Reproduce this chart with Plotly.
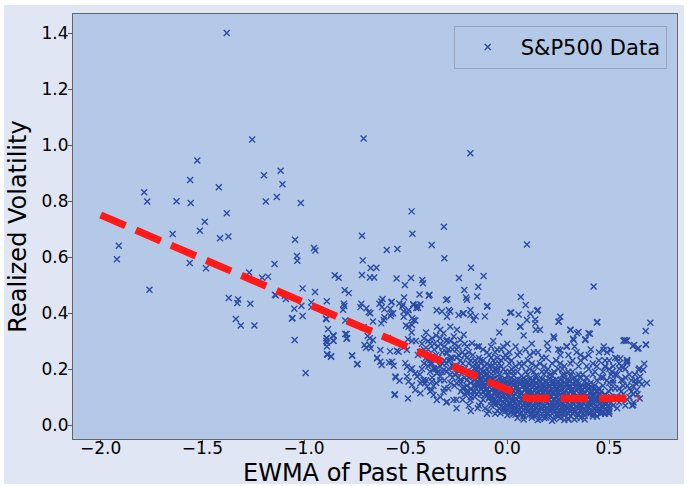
import plotly.graph_objects as go

# ---------------- data ----------------
# sparse / individually readable points
outlier_pts = [
    (-1.380, 1.400), (-1.255, 1.020), (-0.707, 1.023), (-0.182, 0.971), (-1.525, 0.945),
    (-1.115, 0.908), (-1.197, 0.892), (-1.560, 0.875), (-1.106, 0.860), (-1.419, 0.849),
    (-1.786, 0.831), (-1.771, 0.798), (-1.627, 0.799), (-1.557, 0.793), (-1.188, 0.798),
    (-1.134, 0.814), (-1.016, 0.793), (-0.471, 0.763), (-1.380, 0.756), (-1.488, 0.726),
    (-1.512, 0.694), (-1.646, 0.682), (-0.312, 0.708), (-0.467, 0.683), (-0.715, 0.676),
    (-1.372, 0.673), (-1.413, 0.667), (-1.044, 0.662), (0.096, 0.645), (-1.911, 0.640),
    (-0.372, 0.643), (-0.951, 0.632), (-0.944, 0.623), (-0.593, 0.625), (-0.541, 0.629),
    (-1.035, 0.604), (-1.033, 0.587), (-0.310, 0.596), (-1.920, 0.592), (-0.711, 0.588),
    (-1.562, 0.579), (-1.145, 0.575), (-1.482, 0.560), (-0.672, 0.561), (-0.644, 0.562),
    (-0.179, 0.562), (-1.270, 0.545), (-0.715, 0.536), (-0.849, 0.535), (-0.830, 0.526),
    (-0.117, 0.532), (-1.206, 0.526), (-1.177, 0.530), (-0.676, 0.527), (-0.655, 0.527),
    (-0.545, 0.523), (-0.474, 0.525), (-0.418, 0.518), (-0.238, 0.525), (0.424, 0.495),
    (-0.415, 0.506), (-0.504, 0.500), (-1.760, 0.483), (-0.143, 0.494), (-1.007, 0.488),
    (-0.800, 0.481), (-0.780, 0.471), (-0.946, 0.475), (-0.212, 0.482), (-0.383, 0.465),
    (0.066, 0.457), (-1.370, 0.454), (-0.203, 0.455), (-0.508, 0.455), (-1.324, 0.448),
    (-1.143, 0.465), (-1.089, 0.450), (-0.888, 0.442), (-0.295, 0.449), (-1.328, 0.436),
    (-1.264, 0.433), (-0.964, 0.438), (-0.804, 0.433), (-0.718, 0.433), (-0.629, 0.433),
    (-0.569, 0.440), (-0.514, 0.430), (-0.463, 0.431), (-0.428, 0.431), (-0.098, 0.425),
    (0.090, 0.429), (0.150, 0.411), (-1.048, 0.415), (-0.964, 0.421), (-0.808, 0.412),
    (-0.693, 0.417), (-0.605, 0.413), (-0.348, 0.410), (-0.288, 0.411), (0.019, 0.402),
    (0.055, 0.395), (-0.674, 0.399), (-0.562, 0.399), (-1.057, 0.382), (-1.007, 0.389),
    (-1.335, 0.379), (-1.311, 0.355), (-1.244, 0.355), (-0.892, 0.380), (-0.575, 0.389),
    (-0.219, 0.398), (-0.156, 0.388), (-0.111, 0.388), (0.442, 0.368), (0.703, 0.365),
    (0.260, 0.387), (0.137, 0.377), (0.252, 0.370), (-0.012, 0.368), (0.064, 0.352),
    (0.140, 0.340), (0.311, 0.339), (0.350, 0.332), (0.406, 0.326), (0.680, 0.336),
    (0.384, 0.306), (0.323, 0.308), (0.576, 0.304), (0.589, 0.302), (0.623, 0.286),
    (0.682, 0.287), (0.645, 0.274), (0.474, 0.280), (0.509, 0.268), (0.673, 0.219),
    (0.649, 0.202), (0.627, 0.180), (0.619, 0.071), (0.651, 0.095), (0.556, 0.238),
    (0.502, 0.048), (0.461, 0.044), (0.660, 0.145), (0.686, 0.150),
    (-1.046, 0.304), (-0.992, 0.186), (-0.888, 0.311), (-0.890, 0.300), (-0.888, 0.280),
    (-0.856, 0.321), (-0.856, 0.301), (-0.882, 0.342), (-0.884, 0.251), (-0.867, 0.246),
    (-0.791, 0.325), (-0.791, 0.308), (-0.763, 0.248), (-0.737, 0.218), (-0.797, 0.373),
    (-0.703, 0.286), (-0.687, 0.318), (-0.672, 0.274), (-0.661, 0.304), (-0.640, 0.240),
    (-0.618, 0.214), (-0.582, 0.223), (-0.549, 0.170), (-0.553, 0.110), (-0.489, 0.095),
    (-0.625, 0.268), (-0.577, 0.263), (-0.588, 0.311), (-0.620, 0.363), (-0.661, 0.370),
    (-1.138, 0.463), (-1.095, 0.462),
    (-0.149, 0.459), (-0.387, 0.462), (-0.432, 0.466), (-0.302, 0.446), (-1.013, 0.426),
    (-1.059, 0.380), (-0.890, 0.378), (-0.802, 0.425), (-0.723, 0.421), (-0.682, 0.403),
    (-0.620, 0.441), (-0.614, 0.450), (-0.571, 0.438), (-0.617, 0.421), (-0.576, 0.415),
    (-0.571, 0.397), (-0.605, 0.385), (-0.608, 0.375), (-0.532, 0.434), (-0.517, 0.423),
    (-0.510, 0.405), (-0.510, 0.387), (-0.489, 0.399), (-0.486, 0.411), (-0.461, 0.429),
    (-0.444, 0.428), (-0.448, 0.418), (-0.440, 0.419), (-0.469, 0.381), (-0.461, 0.375),
    (-0.453, 0.373), (-0.499, 0.355), (-0.486, 0.351), (-0.469, 0.357), (-0.471, 0.330),
    (-0.489, 0.306), (-0.469, 0.300), (-0.504, 0.280), (-0.494, 0.268), (-0.535, 0.262),
    (-0.543, 0.265), (-0.641, 0.238), (-0.625, 0.226), (-0.695, 0.276), (-0.677, 0.286),
    (-0.707, 0.349), (-0.677, 0.310), (-0.797, 0.325), (-0.788, 0.310), (-0.890, 0.310),
    (-0.887, 0.294), (-0.855, 0.318), (-0.855, 0.301), (-0.887, 0.253), (-0.867, 0.244),
    (-0.764, 0.247), (-0.739, 0.217), (-0.567, 0.226), (-0.559, 0.212), (-0.551, 0.173),
    (-0.530, 0.158), (-0.555, 0.107),
    (-0.502, 0.221), (-0.494, 0.208), (-0.477, 0.197), (-0.469, 0.203), (-0.453, 0.185),
    (-0.444, 0.173), (-0.494, 0.173), (-0.486, 0.155), (-0.469, 0.143), (-0.453, 0.125),
    (-0.428, 0.149), (-0.412, 0.161), (-0.428, 0.113), (-0.395, 0.137), (-0.371, 0.125),
    (-0.363, 0.107), (-0.347, 0.089), (-0.395, 0.232), (-0.379, 0.221), (-0.363, 0.203),
    (-0.347, 0.185), (-0.330, 0.173), (-0.314, 0.197),
    (-0.346, 0.351), (-0.330, 0.340), (-0.314, 0.328), (-0.297, 0.304), (-0.281, 0.351),
    (-0.264, 0.316), (-0.248, 0.340), (-0.232, 0.304), (-0.215, 0.322), (-0.199, 0.280),
    (-0.174, 0.292), (-0.149, 0.280), (-0.166, 0.375), (-0.182, 0.411), (-0.199, 0.447),
    (-0.297, 0.256), (-0.281, 0.232), (-0.264, 0.208), (-0.248, 0.185), (-0.232, 0.161),
    (-0.215, 0.137), (-0.199, 0.113), (-0.182, 0.089), (-0.166, 0.173), (-0.149, 0.208),
    (-0.133, 0.185), (-0.133, 0.232),
    (0.680, 0.288), (0.640, 0.272), (0.617, 0.282), (0.571, 0.301), (0.582, 0.301),
    (0.588, 0.232), (0.588, 0.221), (0.560, 0.210), (0.570, 0.205), (0.645, 0.197),
    (0.667, 0.197), (0.653, 0.173), (0.629, 0.161), (0.650, 0.155), (0.621, 0.137),
    (0.637, 0.125), (0.614, 0.070), (0.497, 0.044), (0.457, 0.054), (0.490, 0.078),
    (0.448, 0.089), (0.416, 0.095), (-0.146, 0.060), (-0.035, 0.042), (-0.314, 0.119),
    (-0.265, 0.089), (-0.297, 0.083), (-0.363, 0.139), (-0.371, 0.155), (-0.405, 0.150),
    (-0.420, 0.155), (-0.297, 0.387), (-0.240, 0.393), (-0.322, 0.405), (-0.281, 0.405),
    (-0.215, 0.399), (-0.182, 0.393), (-0.100, 0.423), (0.014, 0.401), (0.113, 0.397),
    (0.146, 0.408), (0.137, 0.363), (0.063, 0.351), (0.096, 0.375), (0.252, 0.369),
    (0.309, 0.340), (0.342, 0.328), (0.399, 0.328), (0.440, 0.366), (0.383, 0.304),
    (0.326, 0.304), (0.293, 0.280), (0.260, 0.268), (0.227, 0.316), (0.195, 0.292),
    (0.473, 0.268), (0.506, 0.268), (0.539, 0.238), (0.588, 0.226), (0.481, 0.208),
    (0.514, 0.190),
]

# moderately dense zone around the main cluster
spread_pts = [
    (-0.44, 0.25), (-0.42, 0.29), (-0.41, 0.22), (-0.40, 0.33), (-0.39, 0.27), (-0.38, 0.19),
    (-0.37, 0.31), (-0.36, 0.24), (-0.35, 0.15), (-0.34, 0.28), (-0.33, 0.21), (-0.32, 0.26),
    (-0.31, 0.16), (-0.30, 0.30), (-0.29, 0.23), (-0.28, 0.18), (-0.27, 0.27), (-0.26, 0.14),
    (-0.25, 0.21), (-0.24, 0.25), (-0.23, 0.12), (-0.22, 0.19), (-0.21, 0.29), (-0.20, 0.16),
    (-0.19, 0.22), (-0.18, 0.13), (-0.17, 0.25), (-0.16, 0.10), (-0.15, 0.20), (-0.14, 0.28),
    (-0.13, 0.08), (-0.12, 0.23), (-0.11, 0.06), (-0.10, 0.26), (-0.09, 0.05), (-0.08, 0.21),
    (-0.07, 0.30), (-0.06, 0.04), (-0.05, 0.24), (-0.04, 0.33), (-0.38, 0.12), (-0.33, 0.10),
    (-0.29, 0.13), (-0.25, 0.09), (-0.21, 0.11), (-0.19, 0.07), (-0.16, 0.14),
    (-0.19, 0.26), (-0.18, 0.19), (-0.17, 0.21), (-0.16, 0.23), (-0.15, 0.18), (-0.14, 0.24),
    (-0.13, 0.20), (-0.12, 0.27), (-0.11, 0.19), (-0.10, 0.22), (-0.09, 0.25), (-0.09, 0.19),
    (-0.08, 0.28), (-0.07, 0.23), (-0.06, 0.20), (-0.06, 0.26), (-0.05, 0.19), (-0.04, 0.22),
    (-0.03, 0.27), (-0.03, 0.21), (-0.02, 0.24), (-0.01, 0.19), (0.00, 0.29), (0.01, 0.22),
    (-0.45, 0.30), (-0.43, 0.26), (-0.42, 0.20), (-0.41, 0.31), (-0.40, 0.24), (-0.39, 0.21),
    (-0.38, 0.29), (-0.37, 0.22), (-0.36, 0.27), (-0.35, 0.32), (-0.35, 0.20), (-0.34, 0.24),
    (-0.33, 0.29), (-0.32, 0.19), (-0.31, 0.23), (-0.30, 0.26), (-0.29, 0.20), (-0.28, 0.24),
    (-0.27, 0.21), (-0.26, 0.29), (-0.26, 0.18), (-0.25, 0.27), (-0.24, 0.20), (-0.23, 0.23),
    (-0.22, 0.26), (-0.21, 0.17), (-0.20, 0.24),
    (0.00, 0.24), (0.02, 0.20), (0.04, 0.28), (0.06, 0.22), (0.08, 0.32), (0.09, 0.19),
    (0.11, 0.25), (0.12, 0.29), (0.14, 0.21), (0.16, 0.34), (0.17, 0.24), (0.19, 0.19),
    (0.20, 0.27), (0.22, 0.22), (0.23, 0.31), (0.25, 0.20), (0.26, 0.25), (0.28, 0.18),
    (0.29, 0.28), (0.31, 0.22), (0.32, 0.19), (0.34, 0.26), (0.35, 0.21), (0.37, 0.18),
    (0.38, 0.24), (0.40, 0.20), (0.41, 0.27), (0.43, 0.19), (0.45, 0.23), (0.46, 0.17),
    (0.48, 0.21), (0.49, 0.26), (0.51, 0.18), (0.53, 0.24), (0.55, 0.20), (0.57, 0.16),
    (0.59, 0.23), (0.03, 0.19), (0.05, 0.25), (0.07, 0.21), (0.10, 0.23), (0.13, 0.19),
    (0.15, 0.26), (0.18, 0.21), (0.21, 0.18), (0.24, 0.23), (0.27, 0.20), (0.30, 0.25),
    (0.33, 0.17), (0.36, 0.23), (0.39, 0.17), (0.42, 0.22), (0.44, 0.16), (0.47, 0.19),
    (0.50, 0.23), (0.52, 0.16),
    (0.49, 0.05), (0.50, 0.12), (0.51, 0.08), (0.52, 0.15), (0.53, 0.10), (0.54, 0.06),
    (0.55, 0.13), (0.56, 0.09), (0.57, 0.11), (0.58, 0.07), (0.59, 0.14), (0.60, 0.10),
    (0.61, 0.12), (0.62, 0.08), (0.63, 0.15), (0.64, 0.11), (0.60, 0.18), (0.58, 0.20),
    (0.56, 0.16), (0.54, 0.18), (0.52, 0.21), (0.50, 0.15), (0.51, 0.10), (0.53, 0.13),
    (0.49, 0.09), (0.47, 0.14), (0.48, 0.11), (0.50, 0.06), (0.52, 0.07), (0.55, 0.08),
    (0.57, 0.14),
    (-0.30, 0.08), (-0.25, 0.06), (-0.22, 0.09), (-0.18, 0.05), (-0.14, 0.07), (-0.10, 0.04),
    (0.05, 0.025), (0.08, 0.02), (0.38, 0.02), (0.44, 0.03), (0.48, 0.04), (0.00, 0.035),
    (-0.05, 0.05), (-0.08, 0.07), (-0.12, 0.09), (-0.15, 0.11), (-0.18, 0.10), (-0.20, 0.12),
    (0.15, 0.018), (0.28, 0.018), (0.33, 0.02), (0.22, 0.015),
]

# second layer of the moderately dense zone
spread2_pts = [
    (-0.43, 0.18), (-0.41, 0.27), (-0.40, 0.16), (-0.39, 0.30), (-0.38, 0.23), (-0.37, 0.17),
    (-0.36, 0.29), (-0.36, 0.20), (-0.35, 0.25), (-0.34, 0.19), (-0.33, 0.31), (-0.33, 0.16),
    (-0.32, 0.22), (-0.31, 0.28), (-0.31, 0.13), (-0.30, 0.19), (-0.30, 0.22), (-0.29, 0.27),
    (-0.28, 0.15), (-0.28, 0.30), (-0.27, 0.24), (-0.27, 0.17), (-0.26, 0.21), (-0.25, 0.15),
    (-0.25, 0.24), (-0.24, 0.17), (-0.24, 0.28), (-0.23, 0.20), (-0.23, 0.15), (-0.22, 0.22),
    (-0.22, 0.13), (-0.21, 0.25), (-0.21, 0.20), (-0.20, 0.14), (-0.20, 0.19), (-0.19, 0.17),
    (-0.19, 0.12), (-0.18, 0.23), (-0.18, 0.15), (-0.17, 0.18), (-0.17, 0.12), (-0.16, 0.20),
    (-0.16, 0.16), (-0.15, 0.22), (-0.15, 0.14), (-0.14, 0.18), (-0.14, 0.12), (-0.13, 0.22),
    (-0.13, 0.16), (-0.12, 0.19), (-0.12, 0.14), (-0.11, 0.21), (-0.11, 0.16), (-0.10, 0.18),
    (-0.10, 0.13), (-0.09, 0.21), (-0.08, 0.17), (-0.08, 0.24), (-0.07, 0.19), (-0.06, 0.22),
    (-0.05, 0.20), (-0.05, 0.27), (-0.04, 0.18), (-0.03, 0.23), (-0.02, 0.20), (-0.02, 0.28),
    (-0.01, 0.25), (0.01, 0.19), (0.01, 0.26), (0.02, 0.23), (0.04, 0.21), (0.05, 0.19),
    (0.06, 0.26), (0.08, 0.22), (0.09, 0.27), (0.11, 0.20), (0.12, 0.22), (0.13, 0.26),
    (0.16, 0.22), (0.17, 0.19), (0.19, 0.24), (0.20, 0.20), (0.23, 0.19), (0.25, 0.27),
    (0.26, 0.22), (0.28, 0.21), (0.30, 0.19), (0.32, 0.23), (0.33, 0.28), (0.35, 0.18),
    (0.36, 0.25), (0.39, 0.21), (0.40, 0.25), (0.42, 0.18), (0.44, 0.21), (0.45, 0.26),
    (0.47, 0.17), (0.48, 0.23), (0.50, 0.20), (0.53, 0.18), (0.55, 0.22), (0.56, 0.12),
    (0.58, 0.17), (0.59, 0.09), (0.60, 0.13), (0.61, 0.16), (0.62, 0.11), (0.54, 0.10),
    (0.51, 0.13), (0.49, 0.16), (0.47, 0.08), (0.50, 0.04), (0.46, 0.04), (0.42, 0.03),
    (0.36, 0.025), (0.30, 0.02), (0.25, 0.03), (0.18, 0.025), (0.12, 0.035), (0.03, 0.04),
    (-0.02, 0.06), (-0.06, 0.08), (-0.09, 0.10), (-0.13, 0.11), (-0.16, 0.12), (-0.03, 0.12),
    (-0.05, 0.15),
]

# dense core of the cluster
core_pts = [
    (0.12, .026), (0.16, .022), (0.19, .027), (0.23, .021), (0.26, .025), (0.30, .023), (0.34, .027), (0.08, .030),
    (0.04, .037), (0.08, .034), (0.11, .038), (0.14, .033), (0.18, .036), (0.21, .032), (0.24, .037), (0.28, .034),
    (0.31, .031), (0.35, .036), (0.38, .033), (0.42, .038),
    (-0.01, .049), (0.02, .045), (0.05, .048), (0.07, .044), (0.10, .047), (0.13, .050), (0.15, .045), (0.18, .048),
    (0.20, .044), (0.23, .049), (0.26, .046), (0.28, .043), (0.31, .048), (0.33, .045), (0.36, .050), (0.39, .046),
    (0.41, .043), (0.44, .048), (0.47, .045),
    (-0.04, .060), (-0.01, .056), (0.01, .061), (0.04, .057), (0.06, .055), (0.09, .060), (0.11, .057), (0.14, .061),
    (0.17, .056), (0.19, .059), (0.22, .055), (0.24, .060), (0.27, .057), (0.30, .061), (0.32, .056), (0.35, .059),
    (0.37, .055), (0.40, .060), (0.43, .057), (0.45, .061), (0.48, .056),
    (-0.06, .072), (-0.03, .068), (0.00, .071), (0.02, .067), (0.05, .072), (0.08, .069), (0.10, .073), (0.13, .068),
    (0.15, .071), (0.18, .067), (0.21, .072), (0.23, .069), (0.26, .073), (0.28, .068), (0.31, .071), (0.34, .067),
    (0.36, .072), (0.39, .069), (0.41, .073), (0.44, .068), (0.47, .071), (0.50, .069),
    (-0.08, .083), (-0.05, .080), (-0.02, .084), (0.01, .081), (0.03, .085), (0.06, .080), (0.09, .083), (0.11, .079),
    (0.14, .084), (0.16, .081), (0.19, .085), (0.22, .080), (0.24, .083), (0.27, .079), (0.29, .084), (0.32, .081),
    (0.35, .085), (0.37, .080), (0.40, .083), (0.42, .079), (0.45, .084), (0.48, .081),
    (-0.09, .095), (-0.06, .092), (-0.04, .096), (-0.01, .093), (0.02, .097), (0.04, .092), (0.07, .095), (0.10, .091),
    (0.12, .096), (0.15, .093), (0.17, .097), (0.20, .092), (0.23, .095), (0.25, .091), (0.28, .096), (0.30, .093),
    (0.33, .097), (0.36, .092), (0.38, .095), (0.41, .091), (0.43, .096), (0.46, .093), (0.49, .095),
    (-0.11, .107), (-0.08, .104), (-0.05, .108), (-0.02, .105), (0.00, .109), (0.03, .104), (0.06, .107), (0.08, .103),
    (0.11, .108), (0.13, .105), (0.16, .109), (0.19, .104), (0.21, .107), (0.24, .103), (0.26, .108), (0.29, .105),
    (0.32, .109), (0.34, .104), (0.37, .107), (0.39, .103), (0.42, .108), (0.45, .105), (0.48, .107),
    (-0.12, .119), (-0.09, .116), (-0.06, .120), (-0.03, .117), (-0.01, .121), (0.02, .116), (0.05, .119), (0.07, .115),
    (0.10, .120), (0.12, .117), (0.15, .121), (0.18, .116), (0.20, .119), (0.23, .115), (0.25, .120), (0.28, .117),
    (0.31, .121), (0.33, .116), (0.36, .119), (0.38, .115), (0.41, .120), (0.44, .117), (0.46, .119),
    (-0.13, .131), (-0.10, .128), (-0.07, .132), (-0.04, .129), (-0.02, .133), (0.01, .128), (0.04, .131), (0.06, .127),
    (0.09, .132), (0.11, .129), (0.14, .133), (0.17, .128), (0.19, .131), (0.22, .127), (0.24, .132), (0.27, .129),
    (0.30, .133), (0.32, .128), (0.35, .131), (0.37, .127), (0.40, .132), (0.43, .129), (0.45, .131),
    (-0.14, .143), (-0.11, .140), (-0.08, .144), (-0.05, .141), (-0.02, .145), (0.00, .140), (0.03, .143), (0.05, .139),
    (0.08, .144), (0.11, .141), (0.13, .145), (0.16, .140), (0.18, .143), (0.21, .139), (0.24, .144), (0.26, .141),
    (0.29, .145), (0.31, .140), (0.34, .143), (0.37, .139), (0.40, .144), (0.43, .141),
    (-0.15, .155), (-0.12, .152), (-0.09, .156), (-0.06, .153), (-0.03, .157), (0.00, .152), (0.02, .155), (0.05, .151),
    (0.08, .156), (0.10, .153), (0.13, .157), (0.16, .152), (0.19, .155), (0.22, .151), (0.25, .156), (0.28, .153),
    (0.31, .157), (0.34, .152), (0.38, .155), (0.41, .151),
    (-0.16, .167), (-0.13, .164), (-0.10, .168), (-0.07, .165), (-0.04, .169), (-0.01, .164), (0.02, .167), (0.05, .163),
    (0.08, .168), (0.11, .165), (0.14, .169), (0.17, .164), (0.21, .167), (0.24, .163), (0.28, .168), (0.32, .165),
    (0.36, .167),
    (-0.18, .179), (-0.14, .176), (-0.11, .180), (-0.07, .177), (-0.04, .181), (0.00, .176), (0.03, .179), (0.07, .175),
    (0.10, .180), (0.14, .177), (0.18, .181), (0.22, .176), (0.27, .179), (0.31, .175),
]

# interleaved second layer of the dense core
core2_pts = [
    (0.03, .041), (0.06, .040), (0.09, .042), (0.12, .041), (0.145, .040), (0.17, .042), (0.195, .041), (0.22, .040),
    (0.25, .042), (0.27, .041), (0.30, .040), (0.32, .042), (0.345, .041), (0.37, .040), (0.40, .042), (0.43, .041),
    (0.00, .053), (0.03, .052), (0.055, .054), (0.08, .053), (0.105, .052), (0.125, .054), (0.155, .053), (0.185, .052),
    (0.21, .054), (0.235, .053), (0.255, .052), (0.285, .054), (0.305, .053), (0.335, .052), (0.36, .054), (0.385, .053),
    (0.415, .052), (0.44, .054), (0.46, .053),
    (-0.02, .064), (0.015, .065), (0.035, .063), (0.065, .064), (0.09, .065), (0.12, .063), (0.145, .064), (0.165, .065),
    (0.195, .063), (0.215, .064), (0.245, .065), (0.265, .063), (0.29, .064), (0.315, .065), (0.34, .063), (0.365, .064),
    (0.395, .065), (0.42, .063), (0.44, .064), (0.465, .065),
    (-0.045, .076), (-0.015, .077), (0.01, .075), (0.04, .076), (0.065, .077), (0.09, .075), (0.115, .076), (0.14, .077),
    (0.165, .075), (0.195, .076), (0.22, .077), (0.245, .075), (0.27, .076), (0.295, .077), (0.325, .075), (0.35, .076),
    (0.375, .077), (0.40, .075), (0.425, .076), (0.455, .077), (0.48, .075),
    (-0.065, .088), (-0.035, .089), (-0.005, .087), (0.02, .088), (0.045, .089), (0.075, .087), (0.10, .088), (0.125, .089),
    (0.15, .087), (0.175, .088), (0.205, .089), (0.23, .087), (0.255, .088), (0.28, .089), (0.305, .087), (0.335, .088),
    (0.36, .089), (0.385, .087), (0.41, .088), (0.435, .089), (0.465, .087),
    (-0.075, .100), (-0.05, .101), (-0.025, .099), (0.005, .100), (0.03, .101), (0.055, .099), (0.085, .100), (0.105, .101),
    (0.135, .099), (0.16, .100), (0.185, .101), (0.215, .099), (0.24, .100), (0.265, .101), (0.29, .099), (0.315, .100),
    (0.345, .101), (0.37, .099), (0.395, .100), (0.42, .101), (0.445, .099), (0.47, .100),
    (-0.095, .112), (-0.065, .113), (-0.04, .111), (-0.01, .112), (0.015, .113), (0.04, .111), (0.07, .112), (0.095, .113),
    (0.12, .111), (0.145, .112), (0.175, .113), (0.20, .111), (0.225, .112), (0.25, .113), (0.275, .111), (0.30, .112),
    (0.325, .113), (0.355, .111), (0.38, .112), (0.405, .113), (0.43, .111), (0.455, .112),
    (-0.105, .124), (-0.075, .125), (-0.05, .123), (-0.02, .124), (0.005, .125), (0.03, .123), (0.055, .124), (0.085, .125),
    (0.11, .123), (0.135, .124), (0.16, .125), (0.185, .123), (0.21, .124), (0.235, .125), (0.26, .123), (0.29, .124),
    (0.315, .125), (0.34, .123), (0.365, .124), (0.39, .125), (0.415, .123), (0.44, .124),
    (-0.12, .136), (-0.09, .137), (-0.06, .135), (-0.03, .136), (-0.005, .137), (0.02, .135), (0.045, .136), (0.075, .137),
    (0.10, .135), (0.125, .136), (0.155, .137), (0.18, .135), (0.205, .136), (0.23, .137), (0.255, .135), (0.285, .136),
    (0.31, .137), (0.335, .135), (0.36, .136), (0.385, .137), (0.415, .135),
    (-0.125, .148), (-0.095, .149), (-0.065, .147), (-0.035, .148), (-0.01, .149), (0.015, .147), (0.04, .148), (0.065, .149),
    (0.095, .147), (0.12, .148), (0.145, .149), (0.175, .147), (0.20, .148), (0.23, .149), (0.26, .147), (0.29, .148),
    (0.32, .149), (0.35, .147), (0.39, .148),
    (-0.135, .160), (-0.105, .161), (-0.08, .159), (-0.05, .160), (-0.02, .161), (0.01, .159), (0.035, .160), (0.065, .161),
    (0.09, .159), (0.125, .160), (0.155, .161), (0.19, .159), (0.225, .160), (0.26, .161), (0.30, .159), (0.34, .160),
]

# fitted piecewise-linear curve (red dashed)
fit_x = [-2.0, 0.10, 0.646]
fit_y = [0.75, 0.095, 0.095]

series_name = "S&P500 Data"
x_title = "EWMA of Past Returns"
y_title = "Realized Volatility"
x_tick_vals = [-2.0, -1.5, -1.0, -0.5, 0.0, 0.5]
x_tick_text = ["\u22122.0", "\u22121.5", "\u22121.0", "\u22120.5", "0.0", "0.5"]
y_tick_vals = [0.0, 0.2, 0.4, 0.6, 0.8, 1.0, 1.2, 1.4]
y_tick_text = ["0.0", "0.2", "0.4", "0.6", "0.8", "1.0", "1.2", "1.4"]

# ---------------- figure ----------------
all_pts = outlier_pts + spread_pts + spread2_pts + core_pts + core2_pts
xs = [p[0] for p in all_pts]
ys = [p[1] for p in all_pts]

FONT = "DejaVu Sans"
MARK = "#2c4ba3"

fig = go.Figure()
fig.add_trace(go.Scatter(
    x=xs, y=ys, mode="markers", name=series_name,
    marker=dict(symbol="x-thin", size=6, color=MARK, line=dict(width=1.4, color=MARK)),
))
fig.add_trace(go.Scatter(
    x=fit_x, y=fit_y, mode="lines", showlegend=False, hoverinfo="skip",
    line=dict(color="#ff1a1a", width=7.3, dash="27px,11.3px"),
))

axis_common = dict(
    showgrid=False, zeroline=False, showline=True, linecolor="#666666", linewidth=1,
    mirror=True, ticks="outside", ticklen=4, tickwidth=1, tickcolor="#555555",
    tickfont=dict(family=FONT, size=17, color="black"), automargin=False,
)

fig.update_layout(
    width=687, height=486, autosize=False,
    margin=dict(l=73, r=10, t=14, b=47, pad=0),
    paper_bgcolor="white", plot_bgcolor="rgba(0,0,0,0)",
    font=dict(family=FONT, color="black"),
    xaxis=dict(range=[-2.136, 0.834], tickmode="array", tickvals=x_tick_vals, ticktext=x_tick_text,
               ticklabelstandoff=-10, **axis_common),
    yaxis=dict(range=[-0.050, 1.468], tickmode="array", tickvals=y_tick_vals, ticktext=y_tick_text,
               title=dict(text=y_title, font=dict(family=FONT, size=24, color="black"), standoff=8),
               ticklabelstandoff=-4, **axis_common),
    legend=dict(x=0.983, y=0.972, xanchor="right", yanchor="top",
                bgcolor="#B4C9E7", bordercolor="#9aa3b8", borderwidth=1,
                font=dict(family=FONT, size=21, color="black"), itemwidth=56),
    annotations=[
        dict(text=x_title, xref="paper", yref="paper", x=0.5, y=-0.080, xanchor="center", yanchor="middle",
             showarrow=False, font=dict(family=FONT, size=24, color="black")),
    ],
    shapes=[
        dict(type="rect", xref="paper", yref="paper", x0=-0.1142, x1=1.0116, y0=-0.1059, y1=1.0212,
             fillcolor="#E0E6F3", line=dict(width=0), layer="below"),
        dict(type="rect", xref="paper", yref="paper", x0=0, x1=1, y0=0, y1=1,
             fillcolor="#B4C9E7", line=dict(width=0), layer="below"),
    ],
)

fig.write_html("out.html")
